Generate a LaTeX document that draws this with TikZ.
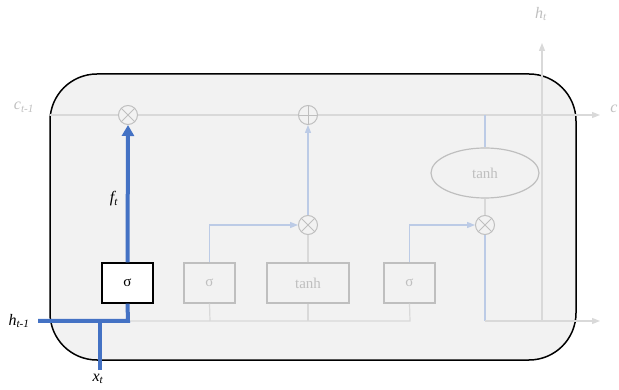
\documentclass[tikz,border=0pt]{standalone}
\usepackage{fontspec}
\setmainfont{Liberation Serif}
\usetikzlibrary{arrows.meta,shapes.geometric}
\definecolor{boxfill}{HTML}{F2F2F2}
\definecolor{lgray}{HTML}{D9D9D9}
\definecolor{mgray}{HTML}{BFBFBF}
\definecolor{lblue}{HTML}{BCCBE6}
\definecolor{dblue}{HTML}{4472C4}
\tikzset{
  gline/.style={draw=lgray, line width=1.2pt},
  bline/.style={draw=lblue, line width=1.2pt},
  blueline/.style={draw=dblue, line width=4pt},
  gtip/.style={-{Triangle[length=8pt,width=6pt]}},
  optxt/.style={font=\fontsize{15}{18}\selectfont},
  gatebox/.style={draw=mgray, line width=1.2pt, fill=boxfill, text=mgray,
    minimum width=51pt, minimum height=40pt, inner sep=0pt, optxt},
  opcirc/.style={circle, draw=mgray, line width=1pt, fill=boxfill,
    minimum size=19pt, inner sep=0pt},
  mult/.style={opcirc, path picture={
    \draw[mgray, line width=0.9pt] (path picture bounding box.south west) -- (path picture bounding box.north east)
      (path picture bounding box.north west) -- (path picture bounding box.south east);}},
  addn/.style={opcirc, path picture={
    \draw[mgray, line width=0.9pt] (path picture bounding box.south) -- (path picture bounding box.north)
      (path picture bounding box.west) -- (path picture bounding box.east);}},
  lbl/.style={font=\fontsize{16}{19}\selectfont\itshape, inner sep=0pt},
}
\begin{document}
\begin{tikzpicture}[x=1pt,y=-1pt]
\useasboundingbox (0,0) rectangle (619,390);
\draw[black, line width=1.5pt, fill=boxfill, rounded corners=47pt] (50,74) rectangle (576,360);

% free ends
\coordinate (cin) at (50,115);
\coordinate (cout) at (600,115);
\coordinate (hin) at (38,321);
\coordinate (xin) at (100,370);
\coordinate (xj) at (100,321);
\coordinate (bj) at (128,321);
\coordinate (bend) at (410,321);
\coordinate (bout) at (600,321);
\coordinate (htb) at (542,321);
\coordinate (htt) at (542,43);
\coordinate (s2j) at (210,321);
\coordinate (tbj) at (308,321);

% background lines
\draw[gline, gtip] (cin) -- (cout);
\draw[gline, gtip] (htb) -- (htt);

% nodes
\node[mult] (m1) at (128,115) {};
\node[addn] (p1) at (308,115) {};
\node[mult] (m2) at (308,225) {};
\node[mult] (m3) at (485,225) {};
\node[ellipse, draw=mgray, line width=1.2pt, fill=boxfill, text=mgray, optxt,
  minimum width=108pt, minimum height=50pt, inner sep=0pt] (et) at (485,173) {tanh};
\node[gatebox, draw=black, fill=white, text=black] (s1) at (127.5,283) {σ};
\node[gatebox] (s2) at (209.5,283) {σ};
\node[gatebox, minimum width=82pt] (tb) at (308,283) {tanh};
\node[gatebox] (s3) at (409.5,283) {σ};

% gray / light-blue connectors
\draw[gline] (bj) -- (bend) -- (s3.south);
\draw[gline] (s2j) -- (s2.south);
\draw[gline] (tbj) -- (tb.south);
\draw[gline] (tb.north) -- (m2.south);
\draw[bline, gtip] (s2.north) |- (m2.west);
\draw[bline, gtip] (m2.north) -- (p1.south);
\draw[bline, gtip] (s3.north) |- (m3.west);
\draw[bline] (485,115) -- (et.north);
\draw[gline] (et.south) -- (m3.north);
\draw[bline] (m3.south) -- (485,321);
\draw[gline, gtip] (485,321) -- (bout);

% blue path
\draw[blueline] (xin) -- (xj);
\draw[blueline] (hin) -- (bj) -- (s1.south);
\draw[blueline, -{Triangle[length=11pt,width=12pt]}] (s1.north) -- (m1.south);

% labels
\node[lbl, text=mgray] (lc1) at (24,107) {c\textsubscript{t-1}};
\node[lbl, text=mgray] (lc) at (614,109) {c};
\node[lbl, text=mgray] (lht) at (541,14) {h\textsubscript{t}};
\node[lbl] (lh1) at (19,321) {h\textsubscript{t-1}};
\node[lbl] (lx) at (98,379) {x\textsubscript{t}};
\node[lbl] (lf) at (114,199) {f\textsubscript{t}};
\end{tikzpicture}
\end{document}
